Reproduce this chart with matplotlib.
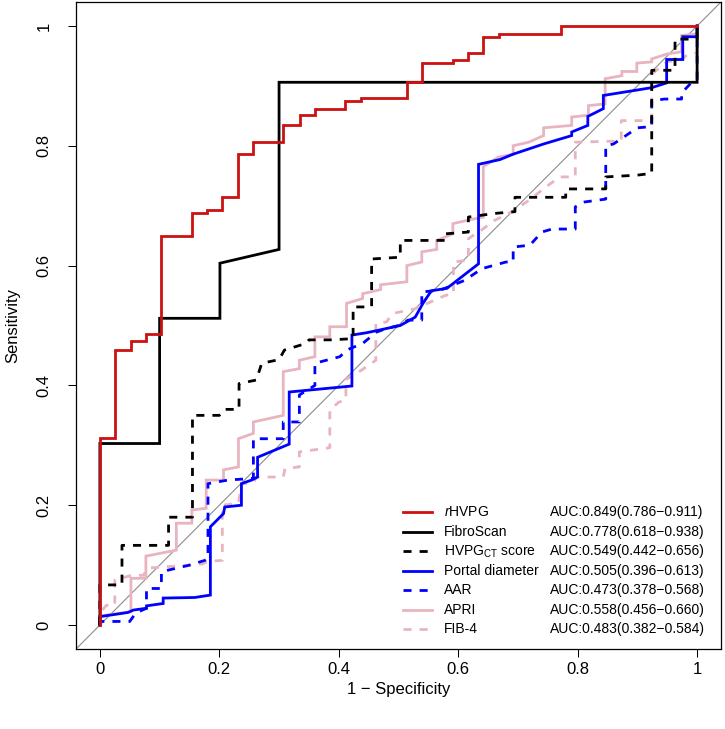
import matplotlib
matplotlib.use("Agg")
import matplotlib.pyplot as plt

plt.rcParams['font.family'] = ['Liberation Sans', 'DejaVu Sans']
plt.rcParams['mathtext.fontset'] = 'custom'
plt.rcParams['mathtext.rm'] = 'Liberation Sans'
plt.rcParams['mathtext.it'] = 'Liberation Sans:italic'

# ---- data: ROC curves (1 - specificity, sensitivity) ----
rhvpg_fpr = [0, 0, 0.026, 0.026, 0.052, 0.052, 0.078, 0.078, 0.102, 0.102, 0.154, 0.154, 0.18, 0.18,
             0.205, 0.205, 0.232, 0.232, 0.257, 0.257, 0.307, 0.307, 0.335, 0.335, 0.36, 0.36, 0.41, 0.41,
             0.437, 0.437, 0.514, 0.514, 0.539, 0.539, 0.591, 0.591, 0.617, 0.617, 0.642, 0.642, 0.669,
             0.669, 0.772, 0.772, 1.0]
rhvpg_tpr = [0, 0.312, 0.312, 0.459, 0.459, 0.474, 0.474, 0.485, 0.485, 0.649, 0.649, 0.688, 0.688, 0.692,
             0.692, 0.714, 0.714, 0.786, 0.786, 0.807, 0.807, 0.835, 0.835, 0.851, 0.851, 0.862, 0.862, 0.874,
             0.874, 0.879, 0.879, 0.906, 0.906, 0.938, 0.938, 0.943, 0.943, 0.955, 0.955, 0.981, 0.981,
             0.987, 0.987, 1.0, 1.0]

fibro_fpr = [0, 0, 0.1, 0.1, 0.201, 0.201, 0.300, 0.300, 1.0, 1.0]
fibro_tpr = [0, 0.303, 0.303, 0.512, 0.512, 0.604, 0.627, 0.906, 0.906, 1.0]

hvpgct_fpr = [0, 0, 0.037, 0.037, 0.115, 0.115, 0.155, 0.155, 0.2, 0.208, 0.233, 0.233, 0.262, 0.271,
              0.30, 0.309, 0.345, 0.35, 0.385, 0.424, 0.424, 0.455, 0.455, 0.503, 0.503, 0.578, 0.578,
              0.617, 0.617, 0.66, 0.695, 0.695, 0.78, 0.78, 0.847, 0.847, 0.90, 0.924, 0.924, 0.963, 0.963,
              1.0, 1.0]
hvpgct_tpr = [0, 0.067, 0.067, 0.133, 0.133, 0.18, 0.18, 0.35, 0.35, 0.36, 0.36, 0.403, 0.409, 0.437,
              0.443, 0.459, 0.470, 0.476, 0.476, 0.478, 0.531, 0.531, 0.611, 0.614, 0.642, 0.642, 0.653,
              0.656, 0.681, 0.687, 0.69, 0.714, 0.714, 0.728, 0.728, 0.748, 0.751, 0.754, 0.926, 0.926, 0.978,
              0.978, 1.0]

portal_fpr = [0, 0, 0.047, 0.056, 0.078, 0.078, 0.106, 0.106, 0.159, 0.185, 0.185, 0.207, 0.209, 0.237,
              0.237, 0.254, 0.264, 0.264, 0.317, 0.317, 0.422, 0.422, 0.447, 0.466, 0.503, 0.528, 0.541,
              0.555, 0.581, 0.634, 0.634, 0.67, 0.692, 0.743, 0.79, 0.79, 0.817, 0.817, 0.843, 0.843, 0.924,
              0.949, 0.949, 0.976, 0.976, 1.0, 1.0]
portal_tpr = [0, 0.014, 0.021, 0.025, 0.028, 0.032, 0.036, 0.045, 0.046, 0.05, 0.164, 0.186, 0.197, 0.2,
              0.236, 0.242, 0.247, 0.28, 0.302, 0.389, 0.399, 0.484, 0.488, 0.492, 0.5, 0.514, 0.537,
              0.558, 0.562, 0.603, 0.769, 0.777, 0.786, 0.803, 0.817, 0.823, 0.834, 0.849, 0.862, 0.884, 0.897,
              0.905, 0.944, 0.944, 0.982, 0.982, 1.0]

aar_fpr = [0, 0, 0.05, 0.06, 0.078, 0.078, 0.103, 0.103, 0.15, 0.176, 0.181, 0.181, 0.22, 0.23, 0.257,
           0.257, 0.307, 0.307, 0.334, 0.334, 0.36, 0.36, 0.402, 0.413, 0.44, 0.463, 0.48, 0.5, 0.516,
           0.539, 0.539, 0.57, 0.61, 0.64, 0.68, 0.692, 0.692, 0.72, 0.74, 0.757, 0.796, 0.796, 0.81, 0.847,
           0.847, 0.86, 0.90, 0.924, 0.924, 0.945, 0.974, 0.974, 0.99, 1.0, 1.0]
aar_tpr = [0, 0.006, 0.006, 0.02, 0.028, 0.061, 0.061, 0.089, 0.1, 0.108, 0.111, 0.236, 0.243, 0.243, 0.245,
           0.311, 0.311, 0.339, 0.339, 0.384, 0.40, 0.437, 0.448, 0.459, 0.47, 0.489, 0.495, 0.5, 0.509,
           0.509, 0.556, 0.559, 0.575, 0.595, 0.606, 0.606, 0.631, 0.634, 0.656, 0.661, 0.661, 0.698, 0.706,
           0.711, 0.80, 0.803, 0.83, 0.832, 0.875, 0.878, 0.878, 0.888, 0.905, 0.91, 1.0]

apri_fpr = [0, 0, 0.05, 0.052, 0.052, 0.077, 0.077, 0.128, 0.128, 0.154, 0.154, 0.178, 0.178, 0.207, 0.207,
            0.232, 0.232, 0.257, 0.257, 0.307, 0.307, 0.334, 0.334, 0.36, 0.36, 0.385, 0.385, 0.413, 0.413,
            0.44, 0.44, 0.47, 0.47, 0.514, 0.514, 0.539, 0.539, 0.564, 0.564, 0.591, 0.591, 0.617, 0.642,
            0.642, 0.667, 0.692, 0.692, 0.718, 0.743, 0.743, 0.79, 0.79, 0.818, 0.818, 0.846, 0.846, 0.874,
            0.874, 0.899, 0.899, 0.924, 0.924, 0.949, 0.974, 0.974, 1.0, 1.0]
apri_tpr = [0, 0.015, 0.022, 0.022, 0.078, 0.078, 0.115, 0.125, 0.17, 0.17, 0.192, 0.195, 0.242, 0.242, 0.259,
            0.264, 0.311, 0.32, 0.339, 0.35, 0.423, 0.428, 0.442, 0.448, 0.481, 0.481, 0.498, 0.498, 0.537,
            0.545, 0.553, 0.56, 0.568, 0.573, 0.6, 0.606, 0.623, 0.627, 0.642, 0.653, 0.67, 0.676, 0.681,
            0.765, 0.781, 0.786, 0.8, 0.806, 0.817, 0.83, 0.834, 0.848, 0.851, 0.867, 0.87, 0.912, 0.917,
            0.924, 0.924, 0.938, 0.94, 0.945, 0.953, 0.957, 0.984, 0.987, 1.0]

fib4_fpr = [0, 0, 0.011, 0.025, 0.025, 0.053, 0.073, 0.08, 0.15, 0.172, 0.18, 0.205, 0.205, 0.232, 0.237,
            0.257, 0.262, 0.307, 0.31, 0.334, 0.334, 0.385, 0.385, 0.40, 0.412, 0.412, 0.43, 0.462, 0.462,
            0.48, 0.49, 0.528, 0.578, 0.592, 0.592, 0.617, 0.617, 0.64, 0.66, 0.69, 0.72, 0.745, 0.77, 0.796,
            0.796, 0.873, 0.873, 0.924, 0.924, 0.95, 0.975, 0.985, 1.0, 1.0]
fib4_tpr = [0, 0.02, 0.033, 0.033, 0.075, 0.083, 0.083, 0.095, 0.1, 0.102, 0.106, 0.108, 0.2, 0.203, 0.236,
            0.237, 0.247, 0.247, 0.261, 0.264, 0.289, 0.296, 0.359, 0.372, 0.376, 0.41, 0.42, 0.442, 0.503,
            0.506, 0.52, 0.528, 0.55, 0.553, 0.606, 0.609, 0.645, 0.66, 0.675, 0.69, 0.71, 0.73, 0.748, 0.748,
            0.806, 0.808, 0.842, 0.842, 0.92, 0.94, 0.945, 0.953, 0.955, 1.0]

labels = [r"$\mathit{r}$HVPG", "FibroScan", r"HVPG$_{\mathrm{CT}}$ score", "Portal diameter", "AAR", "APRI", "FIB-4"]
auc_text = ["AUC:0.849(0.786\u22120.911)", "AUC:0.778(0.618\u22120.938)", "AUC:0.549(0.442\u22120.656)",
            "AUC:0.505(0.396\u22120.613)", "AUC:0.473(0.378\u22120.568)", "AUC:0.558(0.456\u22120.660)",
            "AUC:0.483(0.382\u22120.584)"]

RED = '#CC1111'
PINK = '#E8B4C0'
series = [
    (rhvpg_fpr, rhvpg_tpr, RED, '-'),
    (fibro_fpr, fibro_tpr, 'black', '-'),
    (hvpgct_fpr, hvpgct_tpr, 'black', '--'),
    (portal_fpr, portal_tpr, '#0000FF', '-'),
    (aar_fpr, aar_tpr, '#0000FF', '--'),
    (apri_fpr, apri_tpr, PINK, '-'),
    (fib4_fpr, fib4_tpr, PINK, '--'),
]

fig = plt.figure(figsize=(7.25, 7.29), dpi=100)
ax = fig.add_axes([76/725, 1-649/729, 645/725, 647/729])
ax.set_xlim(-0.04, 1.04)
ax.set_ylim(-0.04, 1.04)

ax.plot([-0.1, 1.1], [-0.1, 1.1], color='#8C8C8C', lw=0.8, zorder=1)

LW = 2.0
DASH = (2.9, 2.9)
# draw in reverse so that first series is on top
for i, (fx, ty, col, ls) in reversed(list(enumerate(series))):
    line, = ax.plot(fx, ty, color=col, lw=LW, solid_joinstyle='miter', zorder=2 + (len(series) - i))
    if ls == '--':
        line.set_dashes(DASH)

# legend (manual, R style)
y0 = 0.211
dy = 19.5/647
for i, (fx, ty, col, ls) in enumerate(series):
    yy = y0 - i*dy
    l, = ax.plot([0.507, 0.552], [yy, yy], transform=ax.transAxes, color=col, lw=LW, zorder=20)
    if ls == '--':
        l.set_dashes(DASH)
    ax.text(0.570, yy, labels[i], transform=ax.transAxes, fontsize=10, va='center', ha='left', zorder=20)
    ax.text(0.735, yy, auc_text[i], transform=ax.transAxes, fontsize=10, va='center', ha='left', zorder=20)

ticks = [0, 0.2, 0.4, 0.6, 0.8, 1]
ticklabels = ['0', '0.2', '0.4', '0.6', '0.8', '1']
ax.set_xticks(ticks)
ax.set_xticklabels(ticklabels)
ax.set_yticks(ticks)
ax.set_yticklabels(ticklabels, rotation=90, va='center')
ax.tick_params(direction='out', length=5.5, width=0.75, labelsize=12, colors='black')
ax.tick_params(axis='x', pad=4)
ax.tick_params(axis='y', pad=12)
for s in ax.spines.values():
    s.set_linewidth(0.9)
    s.set_color('black')

ax.set_xlabel("1 \u2212 Specificity", fontsize=12, labelpad=3.5)
ax.set_ylabel("Sensitivity", fontsize=12, labelpad=11.5)

fig.savefig("out.png", dpi=100)
